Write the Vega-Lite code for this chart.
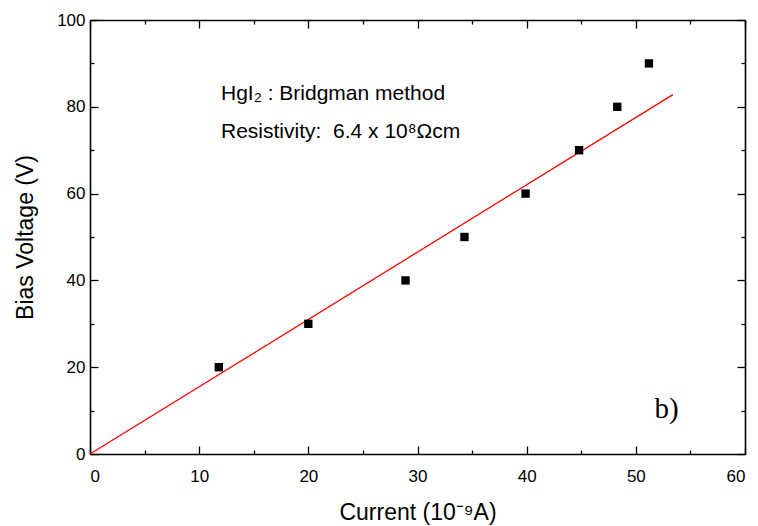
{
  "$schema": "https://vega.github.io/schema/vega-lite/v6.json",
  "width": 655,
  "height": 434,
  "autosize": "none",
  "padding": {"left": 90, "top": 20, "right": 13, "bottom": 72},
  "background": "white",
  "config": {
    "view": {"stroke": null},
    "axis": {"domainColor": "black", "domainWidth": 1.6, "tickColor": "black", "tickWidth": 1.3, "grid": false, "labelFont": "Liberation Sans", "labelFontSize": 17, "labelColor": "black", "titleFont": "Liberation Sans", "titleFontSize": 23, "titleFontWeight": "normal", "titleColor": "black"}
  },
  "datasets": {
    "pts": [
      {"current": 11.8, "voltage": 20},
      {"current": 20.0, "voltage": 30},
      {"current": 28.9, "voltage": 40},
      {"current": 34.3, "voltage": 50},
      {"current": 39.9, "voltage": 60},
      {"current": 44.8, "voltage": 70},
      {"current": 48.3, "voltage": 80},
      {"current": 51.2, "voltage": 90}
    ],
    "fit": [
      {"current": 0, "voltage": 0},
      {"current": 53.4, "voltage": 82.8}
    ],
    "notes": [
      {"current": 12.0, "voltage": 81.6, "text": "HgI₂ : Bridgman method"},
      {"current": 12.0, "voltage": 72.8, "text": "Resistivity:\u00a0 6.4 x 10⁸Ωcm"}
    ],
    "tag": [
      {"current": 51.7, "voltage": 8.3, "text": "b)"}
    ]
  },
  "layer": [
    {
      "data": {"name": "fit"},
      "mark": {"type": "line", "color": "#ff0000", "strokeWidth": 1.3},
      "encoding": {
        "x": {"field": "current", "type": "quantitative", "scale": {"domain": [0, 60], "nice": false},
          "axis": {"orient": "top", "values": [0,5,10,15,20,25,30,35,40,45,50,55,60], "labels": false, "title": null,
            "tickSize": {"condition": {"test": "datum.value % 10 === 0", "value": -8}, "value": -4}}},
        "y": {"field": "voltage", "type": "quantitative", "scale": {"domain": [0, 100], "nice": false},
          "axis": {"orient": "right", "values": [0,10,20,30,40,50,60,70,80,90,100], "labels": false, "title": null,
            "tickSize": {"condition": {"test": "datum.value % 20 === 0", "value": -8}, "value": -4}}}
      }
    },
    {
      "data": {"name": "pts"},
      "mark": {"type": "square", "color": "black", "opacity": 1, "size": 70},
      "encoding": {
        "x": {"field": "current", "type": "quantitative",
          "axis": {"orient": "bottom", "values": [0,5,10,15,20,25,30,35,40,45,50,55,60], "title": "Current (10⁻⁹A)",
            "labelExpr": "datum.value % 10 === 0 ? datum.label : ''", "labelPadding": 22, "titlePadding": 17,
            "tickSize": {"condition": {"test": "datum.value % 10 === 0", "value": -8}, "value": -4}}},
        "y": {"field": "voltage", "type": "quantitative",
          "axis": {"orient": "left", "values": [0,10,20,30,40,50,60,70,80,90,100], "title": "Bias Voltage (V)",
            "labelExpr": "datum.value % 20 === 0 ? datum.label : ''", "labelPadding": 13, "titlePadding": 19,
            "tickSize": {"condition": {"test": "datum.value % 20 === 0", "value": -8}, "value": -4}}}
      }
    },
    {
      "data": {"name": "notes"},
      "mark": {"type": "text", "align": "left", "baseline": "alphabetic", "font": "Liberation Sans", "fontSize": 21, "color": "black"},
      "encoding": {
        "x": {"field": "current", "type": "quantitative", "axis": null},
        "y": {"field": "voltage", "type": "quantitative", "axis": null},
        "text": {"field": "text"}
      }
    },
    {
      "data": {"name": "tag"},
      "mark": {"type": "text", "align": "left", "baseline": "alphabetic", "font": "Liberation Serif", "fontSize": 29, "color": "black"},
      "encoding": {
        "x": {"field": "current", "type": "quantitative", "axis": null},
        "y": {"field": "voltage", "type": "quantitative", "axis": null},
        "text": {"field": "text"}
      }
    }
  ],
  "resolve": {"axis": {"x": "independent", "y": "independent"}}
}
